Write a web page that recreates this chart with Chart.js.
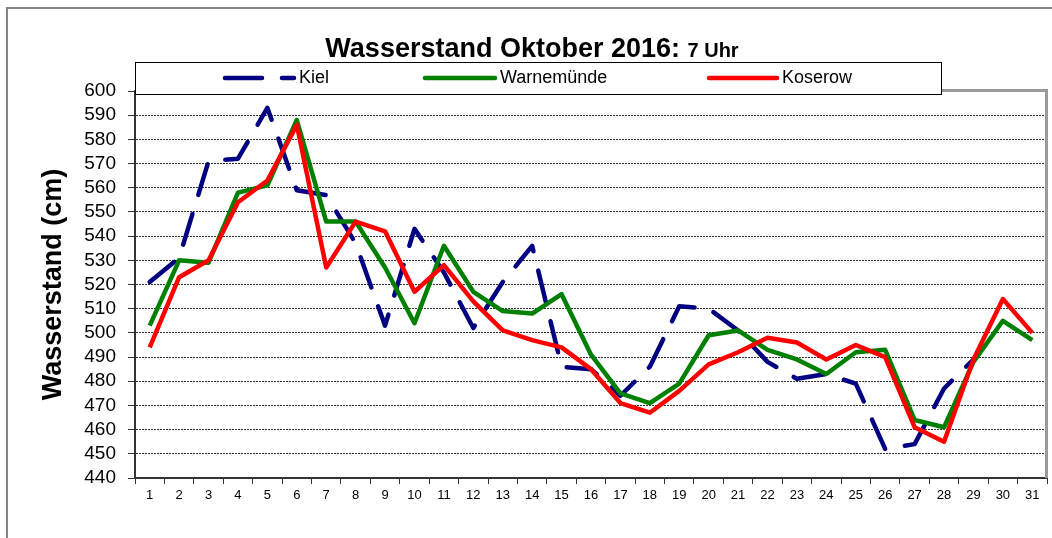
<!DOCTYPE html>
<html>
<head>
<meta charset="utf-8">
<script src="https://cdn.jsdelivr.net/npm/chart.js@4.4.1/dist/chart.umd.min.js"></script>
<style>
  html, body { margin: 0; padding: 0; background: #fff; }
  canvas { display: block; }
</style>
</head>
<body>
<canvas id="pegelChart" width="1052" height="538"></canvas>
<script>
// Tage im Oktober 2016
const tage = ['1','2','3','4','5','6','7','8','9','10','11','12','13','14','15','16',
              '17','18','19','20','21','22','23','24','25','26','27','28','29','30','31'];

// Wasserstand in cm, jeweils 7 Uhr
const kiel = [521, 531, 571, 572, 593, 559, 557, 537, 503, 543, 525, 502, 521, 536, 486, 485,
              474, 486, 511, 510, 501, 488, 481, 483, 479, 452, 454, 477, 489, null, null];
const warnemuende = [503, 530, 529, 558, 561, 588, 546, 546, 527, 504, 536, 517, 509, 508, 516, 491,
                     475, 471, 479, 499, 501, 493, 489, 483, 492, 493, 464, 461, 488, 505, 497];
const koserow = [494, 523, 530, 554, 563, 586, 527, 546, 542, 517, 528, 513, 501, 497, 494, 485,
                 471, 467, 476, 487, 492, 498, 496, 489, 495, 490, 461, 455, 489, 514, 500];

const yMin = 440;
const yMax = 600;
const yStep = 10;

const schrift = '"Liberation Sans", Arial, sans-serif';

// --- Hintergrund, Rahmen, Titel und Legende ---
const rahmenPlugin = {
    id: 'rahmen',
    beforeDraw(chart) {
        const ctx = chart.ctx;
        ctx.save();
        ctx.fillStyle = '#fff';
        ctx.fillRect(0, 0, chart.width, chart.height);
        ctx.strokeStyle = '#858585';
        ctx.lineWidth = 2;
        ctx.strokeRect(7, 8, chart.width + 20, chart.height + 20);
        ctx.restore();
    },
    afterDatasetsDraw(chart) {
        const ctx = chart.ctx;
        const a = chart.chartArea;
        ctx.save();
        ctx.strokeStyle = '#9a9a9a';
        ctx.lineWidth = 3;
        ctx.beginPath();
        ctx.moveTo(a.left, a.top - 0.5);
        ctx.lineTo(a.right - 0.5, a.top - 0.5);
        ctx.lineTo(a.right - 0.5, a.bottom);
        ctx.stroke();
        ctx.restore();
    },
    afterDraw(chart) {
        const ctx = chart.ctx;
        ctx.save();

        // Titel mit zwei Schriftgroessen
        const teil1 = 'Wasserstand Oktober 2016: ';
        const teil2 = '7 Uhr';
        ctx.fillStyle = '#000';
        ctx.textBaseline = 'alphabetic';
        ctx.textAlign = 'left';
        ctx.font = 'bold 27px ' + schrift;
        const b1 = ctx.measureText(teil1).width;
        ctx.font = 'bold 20px ' + schrift;
        const b2 = ctx.measureText(teil2).width;
        let x = 532 - (b1 + b2) / 2;
        ctx.font = 'bold 27px ' + schrift;
        ctx.fillText(teil1, x, 57);
        ctx.font = 'bold 20px ' + schrift;
        ctx.fillText(teil2, x + b1, 57);

        // Legende (Kasten ueber dem Diagramm)
        ctx.fillStyle = '#fff';
        ctx.fillRect(135, 62, 806, 32);
        ctx.strokeStyle = '#000';
        ctx.lineWidth = 1;
        ctx.strokeRect(135.5, 62.5, 806, 32);

        const pos = [[225, 294], [425, 495], [709, 777]];
        ctx.font = '18px ' + schrift;
        ctx.textBaseline = 'middle';
        chart.data.datasets.forEach((ds, i) => {
            const [x1, x2] = pos[i];
            ctx.save();
            ctx.strokeStyle = ds.borderColor;
            ctx.lineWidth = ds.borderWidth;
            ctx.lineCap = 'round';
            ctx.setLineDash(ds.borderDash ? [37, 20] : []);
            ctx.beginPath();
            ctx.moveTo(x1, 78);
            ctx.lineTo(x2, 78);
            ctx.stroke();
            ctx.restore();
            ctx.fillStyle = '#000';
            ctx.fillText(ds.label, x2 + 5, 78);
        });
        ctx.restore();
    }
};

new Chart(document.getElementById('pegelChart'), {
    type: 'line',
    data: {
        labels: tage,
        datasets: [{
            label: 'Kiel',
            data: kiel,
            borderColor: '#000080',
            borderWidth: 4.5,
            borderDash: [32, 20],
            borderCapStyle: 'round',
            order: 2
        }, {
            label: 'Warnemünde',
            data: warnemuende,
            borderColor: '#008000',
            borderWidth: 4.5,
            order: 1
        }, {
            label: 'Koserow',
            data: koserow,
            borderColor: '#ff0000',
            borderWidth: 4.5,
            order: 0
        }]
    },
    options: {
        responsive: false,
        animation: false,
        layout: {
            padding: { top: 91, left: 0, right: 5, bottom: 0 }
        },
        elements: {
            point: { radius: 0 },
            line: { tension: 0, borderJoinStyle: 'round', fill: false }
        },
        scales: {
            x: {
                offset: true,
                afterFit: (s) => { s.height = 60; },
                grid: {
                    offset: true,
                    drawOnChartArea: false,
                    tickLength: 6,
                    tickColor: '#333'
                },
                border: { color: '#333', width: 2 },
                ticks: {
                    color: '#000',
                    padding: 4,
                    maxRotation: 0,
                    autoSkip: false,
                    font: { family: schrift, size: 13 }
                }
            },
            y: {
                min: yMin,
                max: yMax,
                afterFit: (s) => { s.width = 135; },
                grid: {
                    color: '#333',
                    lineWidth: 1,
                    tickLength: 7,
                    tickColor: '#333',
                    tickBorderDash: []
                },
                border: { color: '#333', width: 2, dash: [2, 1] },
                ticks: {
                    stepSize: yStep,
                    autoSkip: false,
                    color: '#000',
                    padding: 12,
                    font: { family: schrift, size: 19 }
                },
                title: {
                    display: true,
                    text: 'Wasserstand (cm)',
                    color: '#000',
                    font: { family: schrift, size: 27, weight: 'bold' },
                    padding: { top: 37, bottom: 0 }
                }
            }
        },
        plugins: {
            legend: { display: false },
            tooltip: { enabled: false }
        }
    },
    plugins: [rahmenPlugin]
});
</script>
</body>
</html>
